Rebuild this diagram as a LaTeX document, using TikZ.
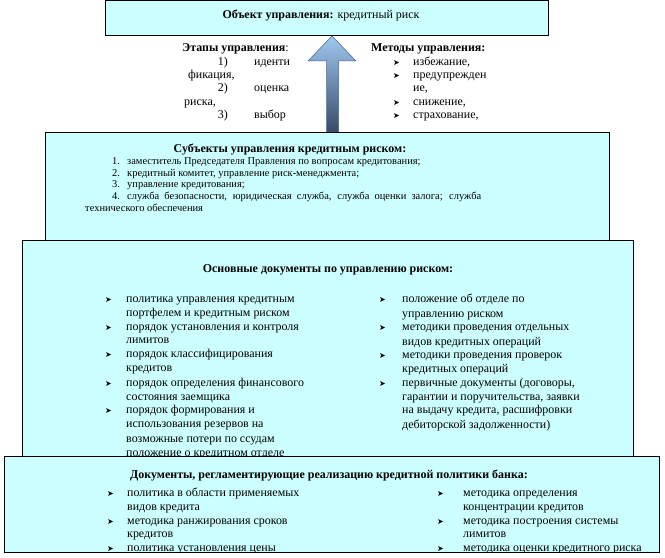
\documentclass[tikz,border=0pt]{standalone}
\usepackage{fontspec}
\setmainfont{Liberation Serif}
\newfontfamily\dvs{DejaVu Sans}
\definecolor{boxfill}{RGB}{204,255,255}
\definecolor{arrtop}{RGB}{160,200,242}
\definecolor{arrbot}{RGB}{58,74,102}
\definecolor{arredge}{RGB}{70,100,150}
\newcommand\fs{\fontsize{12}{14}\selectfont}
\newcommand\fss{\fontsize{10.5}{12}\selectfont}
\newcommand\bul{{\dvs\fontsize{8}{8}\selectfont ➤}}
\tikzset{
  box/.style={draw=black, line width=0.9bp, fill=boxfill, inner sep=0, anchor=north west},
  txt/.style={inner sep=0, anchor=base west, font=\fs},
  txte/.style={inner sep=0, anchor=base east, font=\fs},
  hd/.style={inner sep=0, anchor=base, font=\fs\bfseries},
  small/.style={font=\fss},
}
% name, x, y, text
\newcommand\tl[5][]{\node[txt,#1] (#2) at (#3,{#4+4}) {#5};}
% name, bullet x, text x, y, text
\newcommand\bl[5]{\node[txt] (#1b) at (#2,{#4+4}) {\bul};\node[txt] (#1) at (#3,{#4+4}) {#5};}
\begin{document}
\begin{tikzpicture}[x=1bp,y=-1bp]
\useasboundingbox (0,0) rectangle (665,558);
% box 1
\node[box, minimum width=443bp, minimum height=35bp] (b1) at (105,0.5) {};
\node[hd] (h1) at (321,19) {Объект управления: \mdseries кредитный риск};
% arrow
\coordinate (tip) at (332,36);
\shade[top color=arrtop, bottom color=arrbot, draw=arredge, line width=0.5bp]
  (tip) -- (356,61) -- (338.5,61) -- (338.5,132) -- (326.5,132) -- (326.5,61) -- (308,61) -- cycle;
% stages
\tl{e0}{182}{48}{\textbf{Этапы управления}:}
\node[txte] (e1n) at (228,66) {1)}; \tl{e1}{254}{62}{иденти}
\tl{e1c}{188}{75}{фикация,}
\node[txte] (e2n) at (228,92) {2)}; \tl{e2}{254}{88}{оценка}
\tl{e2c}{184}{102}{риска,}
\node[txte] (e3n) at (228,119) {3)}; \tl{e3}{254}{115}{выбор}
% methods
\node[txt,font=\fs\bfseries] (m0) at (371,52) {Методы управления:};
\bl{m1}{393}{413}{62}{избежание,}
\bl{m2}{393}{413}{75}{предупрежден}
\tl{m2c}{413}{88}{ие,}
\bl{m3}{393}{413}{102}{снижение,}
\bl{m4}{393}{413}{115}{страхование,}
% box 2
\node[box, minimum width=564bp, minimum height=108bp] (b2) at (45,132) {};
\node[hd] (h2) at (290,153) {Субъекты управления кредитным риском:};
\node[txt,small] (s1n) at (112,165) {1.}; \tl[small]{s1}{127}{161}{заместитель Председателя Правления по вопросам кредитования;}
\node[txt,small] (s2n) at (112,177) {2.}; \tl[small]{s2}{127}{173}{кредитный комитет, управление риск-менеджмента;}
\node[txt,small] (s3n) at (112,188) {3.}; \tl[small]{s3}{127}{184}{управление кредитования;}
\node[txt,small] (s4n) at (112,200) {4.}; \tl[small]{s4}{127}{196}{\makebox[354bp][s]{служба безопасности, юридическая служба, служба оценки залога; служба}}
\tl[small]{s4c}{85}{208}{технического обеспечения}
% box 3
\node[box, minimum width=611bp, minimum height=216bp] (b3) at (22,240) {};
\node[hd] (h3) at (328,272) {Основные документы по управлению риском:};
\bl{d1}{105}{126}{298}{политика управления кредитным}
\tl{d1c}{126}{312}{портфелем и кредитным риском}
\bl{d2}{105}{126}{326}{порядок установления и контроля}
\tl{d2c}{126}{339}{лимитов}
\bl{d3}{105}{126}{353}{порядок классифицирования}
\tl{d3c}{126}{367}{кредитов}
\bl{d4}{105}{126}{382}{порядок определения финансового}
\tl{d4c}{126}{396}{состояния заемщика}
\bl{d5}{105}{126}{409}{порядок формирования и}
\tl{d5c}{126}{423}{использования резервов на}
\tl{d5d}{126}{438}{возможные потери по ссудам}
\tl{d5e}{126}{452}{положение о кредитном отделе}
\bl{r1}{379}{402}{298}{положение об отделе по}
\tl{r1c}{402}{313}{управлению риском}
\bl{r2}{379}{402}{326}{методики проведения отдельных}
\tl{r2c}{402}{341}{видов кредитных операций}
\bl{r3}{379}{402}{354}{методики проведения проверок}
\tl{r3c}{402}{368}{кредитных операций}
\bl{r4}{379}{402}{382}{первичные документы (договоры,}
\tl{r4c}{402}{396}{гарантии и поручительства, заявки}
\tl{r4d}{402}{409}{на выдачу кредита, расшифровки}
\tl{r4e}{402}{424}{дебиторской задолженности)}
% box 4
\node[box, minimum width=655bp, minimum height=96bp] (b4) at (4,456) {};
\begin{scope}
\clip (5,457) rectangle (658,551);
\node[hd] (h4) at (329,478) {Документы, регламентирующие реализацию кредитной политики банка:};
\bl{p1}{107}{127}{492}{политика в области применяемых}
\tl{p1c}{127}{506}{видов кредита}
\bl{p2}{107}{127}{520}{методика ранжирования сроков}
\tl{p2c}{127}{533}{кредитов}
\bl{p3}{107}{127}{547}{политика установления цены}
\bl{q1}{437}{463}{492}{методика определения}
\tl{q1c}{463}{506}{концентрации кредитов}
\bl{q2}{437}{463}{520}{методика построения системы}
\tl{q2c}{463}{533}{лимитов}
\bl{q3}{437}{463}{547}{методика оценки кредитного риска}
\end{scope}
\end{tikzpicture}
\end{document}
